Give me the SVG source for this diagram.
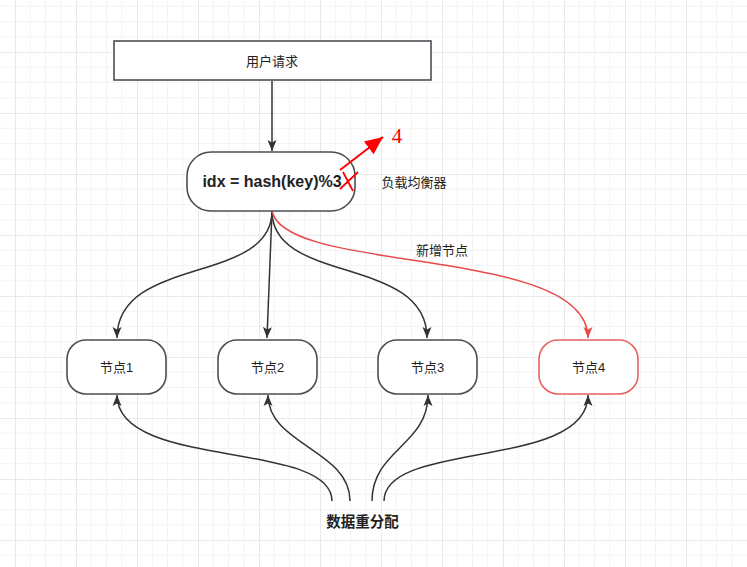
<svg xmlns="http://www.w3.org/2000/svg" width="747" height="567" viewBox="0 0 747 567">
<style>
.box{fill:#ffffff;stroke:#4a4e53;stroke-width:1.6}
.red{fill:#ffffff;stroke:#e86060;stroke-width:1.6}
.t{font-family:"Liberation Sans","Noto Sans CJK SC",sans-serif;font-size:13px;fill:#222;text-anchor:middle;dominant-baseline:central}
.tb{font-family:"Liberation Sans","Noto Sans CJK SC",sans-serif;font-weight:bold;fill:#222;text-anchor:middle;dominant-baseline:central}
.c{fill:none;stroke:#333;stroke-width:1.5}
.cr{fill:none;stroke:#e84a4a;stroke-width:1.5}
</style>
<defs>
<pattern id="grid" patternUnits="userSpaceOnUse" x="15" y="-9" width="61" height="61">
<rect width="61" height="61" fill="#ffffff"/>
<path d="M15.25 0V61M30.5 0V61M45.75 0V61M0 15.25H61M0 30.5H61M0 45.75H61" stroke="#f3f3f3" stroke-width="1"/>
<path d="M0.5 0V61M0 0.5H61" stroke="#e9e9e9" stroke-width="1"/>
</pattern>
<marker id="ah" markerUnits="userSpaceOnUse" markerWidth="12" markerHeight="12" viewBox="0 0 12 12" refX="11" refY="6" orient="auto">
<path d="M0 1.5L11 6L0 10.5L2.5 6Z" fill="#333"/>
</marker>
<marker id="ahr" markerUnits="userSpaceOnUse" markerWidth="12" markerHeight="12" viewBox="0 0 12 12" refX="11" refY="6" orient="auto">
<path d="M0 1.5L11 6L0 10.5L2.5 6Z" fill="#e84a4a"/>
</marker>
<marker id="ahR" markerUnits="userSpaceOnUse" markerWidth="20" markerHeight="20" viewBox="0 0 20 20" refX="18" refY="10" orient="auto">
<path d="M0 2L18 10L0 18Z" fill="#ff0000"/>
</marker>
</defs>
<rect width="747" height="567" fill="url(#grid)"/>

<g id="connectors">
<path class="c" d="M272 81V151" marker-end="url(#ah)"/>
<path class="c" d="M272 211C272 285 117 255 117 338" marker-end="url(#ah)"/>
<path class="c" d="M272 211L267 338" marker-end="url(#ah)"/>
<path class="c" d="M272 211C272 285 427 255 427 338" marker-end="url(#ah)"/>
<path class="cr" d="M272 211C285 275 588 245 588 338" marker-end="url(#ahr)"/>
<text class="t" x="442" y="250">新增节点</text>
<path class="c" d="M332 501C332 440 117 470 117 395" marker-end="url(#ah)"/>
<path class="c" d="M350 501C350 450 268 445 268 395" marker-end="url(#ah)"/>
<path class="c" d="M372 501C372 450 428 445 428 395" marker-end="url(#ah)"/>
<path class="c" d="M384 501C384 440 588 470 588 395" marker-end="url(#ah)"/>
</g>

<g id="request">
<rect class="box" x="114" y="41" width="317" height="39"/>
<text class="t" x="272" y="61">用户请求</text>
</g>

<g id="balancer">
<rect class="box" x="187" y="152" width="168" height="59" rx="24" ry="24"/>
<text class="tb" x="272" y="181" font-size="16">idx = hash(key)%3</text>
<path d="M343 172L353 191M340 189L358 172" stroke="#ff0000" stroke-width="1.8" fill="none"/>
<path d="M340 170L383 137" stroke="#ff0000" stroke-width="2" fill="none" marker-end="url(#ahR)"/>
<text x="397" y="143" font-family="Liberation Serif,serif" font-size="21" fill="#ff0000" text-anchor="middle">4</text>
<text class="t" x="414" y="182">负载均衡器</text>
</g>

<g id="node1">
<rect class="box" x="67" y="340" width="99" height="54" rx="19" ry="19"/>
<text class="t" x="116.5" y="367">节点1</text>
</g>
<g id="node2">
<rect class="box" x="218" y="340" width="99" height="54" rx="19" ry="19"/>
<text class="t" x="267.5" y="367">节点2</text>
</g>
<g id="node3">
<rect class="box" x="378" y="340" width="99" height="54" rx="19" ry="19"/>
<text class="t" x="427.5" y="367">节点3</text>
</g>
<g id="node4">
<rect class="red" x="539" y="340" width="99" height="54" rx="19" ry="19"/>
<text class="t" x="588.5" y="367">节点4</text>
</g>

<g id="redistribute">
<text class="tb" x="362.5" y="522" font-size="14.5">数据重分配</text>
</g>
</svg>
